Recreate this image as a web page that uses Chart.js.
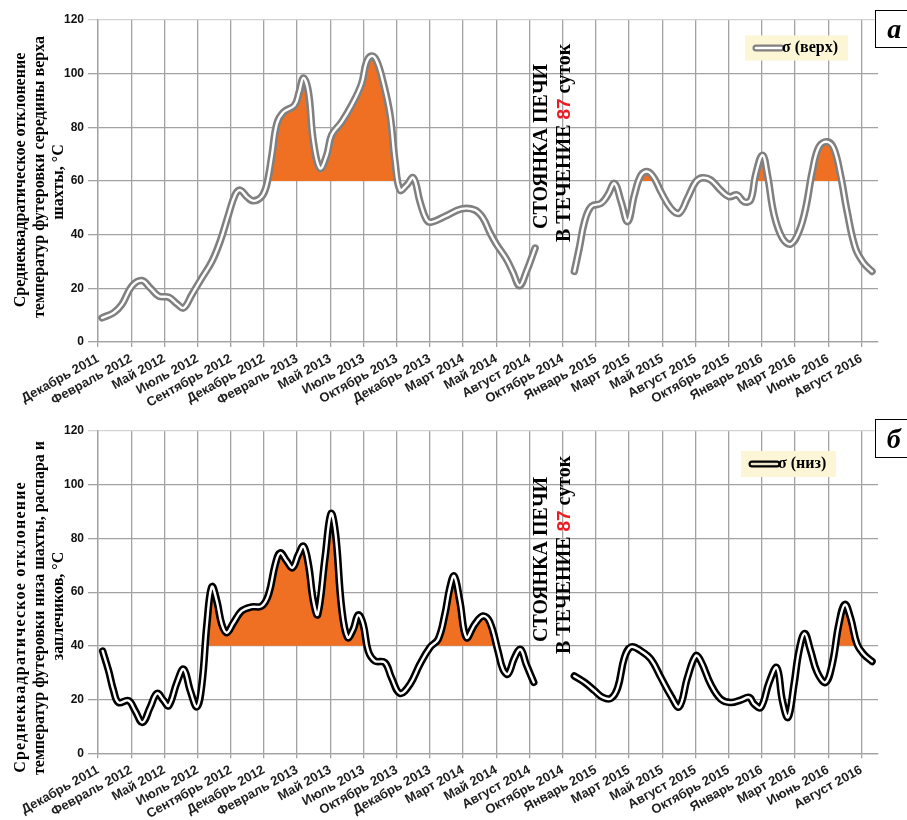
<!DOCTYPE html>
<html><head><meta charset="utf-8">
<script src="https://cdn.jsdelivr.net/npm/chart.js@4.4.1/dist/chart.umd.min.js"></script>
<style>
html,body{margin:0;padding:0;background:#fff;}
#wrap{position:relative;width:907px;height:820px;overflow:hidden;}
.box{position:absolute;left:0;width:907px;height:410px;}
</style></head><body>
<div id="wrap">
<div class="box" style="top:0"><canvas id="c1" width="907" height="410"></canvas></div>
<div class="box" style="top:410px"><canvas id="c2" width="907" height="410"></canvas></div>
</div>
<script>
// ---- categories (x-axis tick labels) ----
const tickLabels = ['Декабрь 2011','Февраль 2012','Май 2012','Июль 2012','Сентябрь 2012','Декабрь 2012',
  'Февраль 2013','Май 2013','Июль 2013','Октябрь 2013','Декабрь 2013','Март 2014','Май 2014','Август 2014',
  'Октябрь 2014','Январь 2015','Март 2015','Май 2015','Август 2015','Октябрь 2015','Январь 2016','Март 2016',
  'Июнь 2016','Август 2016'];
const yTicks = [0, 20, 40, 60, 80, 100, 120];

// ---- σ (верх): positions in label units, values in °C (null = furnace stop) ----
const xTop = [0.12,0.47,0.72,1.02,1.32,1.57,1.83,2.13,2.38,2.58,2.83,3.13,3.43,3.68,3.93,4.13,4.28,4.48,4.68,4.93,
  5.08,5.24,5.39,5.59,5.92,6.06,6.19,6.34,6.49,6.69,6.89,7.04,7.34,7.64,7.94,8.09,8.24,8.39,8.59,8.80,8.95,9.10,
  9.30,9.50,9.70,9.90,10.05,10.45,10.95,11.35,11.6,11.8,12.0,12.3,12.5,12.7,12.9,13.17,
  13.8,
  14.35,14.5,14.66,14.86,15.16,15.36,15.56,15.76,15.96,16.16,16.36,16.56,16.76,16.96,17.26,17.51,17.76,18.01,
  18.21,18.46,18.76,19.01,19.26,19.46,19.66,19.81,20.02,20.17,20.37,20.62,20.87,21.12,21.32,21.52,21.72,21.97,
  22.17,22.37,22.57,22.82,23.07,23.32];
const sigmaTop = [9.0,10.9,14,20.8,22.9,20.2,17.1,16.7,14.2,12.7,17.7,23.9,30,37.5,47.4,54.8,56.6,54.2,52.6,54.2,
  58.5,69.6,81.4,85.7,88.2,93.1,98.4,93.1,74.6,64.7,69.6,77.1,82,88.2,96.2,104.3,106.6,104.9,96.8,84.5,67.2,56.6,
  58.5,61.2,52.3,45.5,44.7,46.8,49.6,49.2,46.2,41,36.5,31,26,21,26,35,
  null,
  26.3,35,44.9,50.5,51.7,54.8,59.1,52.3,44.9,54.8,62.2,63.5,61,56,49.8,48,53.6,59.7,
  61.2,60.4,56.6,54.2,54.8,52.3,52.9,62.2,69.6,62.2,47.4,38.7,36.5,41.2,49.8,63.5,72.7,74.6,
  72.1,62.2,48.6,35,29.4,26.3];
// orange area above 60 (σ верх)
const xTopFill = [5.10,5.24,5.39,5.59,5.92,6.06,6.19,6.34,6.49,6.69,6.89,7.04,7.34,7.64,7.94,8.09,8.24,8.39,8.59,8.80,8.95,9.0,
  9.05, 16.25,16.36,16.56,16.76,16.85, 16.9, 19.77,19.81,20.02,20.17,20.2, 20.3, 21.49,21.52,21.72,21.97,22.17,22.37,22.40];
const fillTop = [60,69.6,81.4,85.7,88.2,93.1,97.5,93.1,74.6,64.7,69.6,77.1,82,88.2,96.2,104,105.5,104.5,96.8,84.5,67.2,60,
  null, 60,62.2,63.5,61,60, null, 60,62.2,67,62.2,60, null, 60,63.5,72.7,74.6,72.1,62.2,60];

// ---- σ (низ) ----
const xBot = [0.14,0.32,0.47,0.62,0.92,1.12,1.34,1.57,1.78,1.98,2.13,2.38,2.58,2.78,2.98,3.13,3.28,3.43,3.58,3.73,
  3.88,4.08,4.33,4.63,4.93,5.14,5.34,5.49,5.69,5.86,6.04,6.19,6.34,6.49,6.62,6.84,7.02,7.16,7.34,7.52,7.69,7.84,
  7.99,8.14,8.34,8.64,8.84,9.10,9.40,9.70,10.0,10.25,10.45,10.60,10.73,10.90,11.10,11.35,11.60,11.80,12.05,12.2,
  12.35,12.55,12.73,12.9,13.13,
  13.8,
  14.35,14.66,14.96,15.21,15.46,15.66,15.86,16.06,16.36,16.66,16.96,17.26,17.51,17.76,18.01,18.16,18.46,18.76,
  19.06,19.36,19.62,19.77,19.97,20.22,20.45,20.62,20.79,20.97,21.12,21.29,21.47,21.67,21.92,22.12,22.32,22.5,
  22.67,22.87,23.07,23.32];
const sigmaBot = [38.1,30.7,23.3,18.9,19.6,15.8,11.5,17.1,22.3,19.6,17.7,26.4,31.3,23.3,17.3,25.7,48,62,56.7,48,
  44.9,48.6,53,54.5,54.8,59.2,70.3,74.6,71.5,69.1,74,77.1,70.3,56.7,51.7,72.8,89.2,81.4,54.2,43.1,46.2,51.5,
  48,38.1,34.4,33.8,28.2,22.3,25.7,33.2,39.4,42.5,51.7,61.6,66,56.7,43.1,48,51.1,49,38.1,31.3,
  29.5,35.6,38.7,33.2,26.4,
  null,
  28.8,26.4,23.3,20.8,20.5,24.5,35.6,39.6,38.1,35,28.2,21.4,17.3,28.2,36.3,34.4,25.7,20.2,
  18.9,19.8,20.8,18.3,17.1,26.4,31.9,19.6,13.4,25.7,38.1,44.6,38.1,30.1,26.4,33.2,48,55.4,
  50.5,40.6,36.9,34.2];
// orange area above 40 (σ низ)
const xBotFill = [3.23,3.28,3.43,3.58,3.73,3.88,4.08,4.33,4.63,4.93,5.14,5.34,5.49,5.69,5.86,6.04,6.19,6.34,6.49,6.62,
  6.84,7.02,7.16,7.34,7.52,7.69,7.84,7.99,8.11, 8.2, 10.04,10.25,10.45,10.60,10.73,10.90,11.10,11.35,11.60,11.80,11.99,
  12.1, 22.26,22.32,22.5,22.67,22.78];
const fillBot = [40,48,62,56.7,48,44.9,48.6,53,54.5,54.8,59.2,70.3,74.6,71.5,69.1,74,77.1,70.3,56.7,51.7,
  72.8,88,81.4,54.2,43.1,46.2,51.5,48,40, null, 40,42.5,51.7,61.6,66,56.7,43.1,48,51.1,49,40,
  null, 40,48,55.4,50.5,40];

const ORANGE = '#f07023';
const pts = (xs, ys) => xs.map((x, i) => ({x: x, y: ys[i]}));

function makeDeco(cfg) {
  return {
    id: 'deco',
    afterDraw(chart) {
      const ctx = chart.ctx;
      // y-axis title (three lines, rotated)
      cfg.title.forEach((t, i) => {
        ctx.save();
        ctx.translate(cfg.titleX[i], cfg.titleY[i]);
        ctx.rotate(-Math.PI / 2);
        ctx.font = 'bold 16px "Liberation Serif"';
        ctx.fillStyle = '#000';
        ctx.textAlign = 'center';
        ctx.textBaseline = 'alphabetic';
        if (cfg.titleSpacing[i]) ctx.letterSpacing = cfg.titleSpacing[i];
        ctx.fillText(t, 0, 0);
        ctx.restore();
      });
      // vertical annotation
      ctx.save();
      ctx.translate(cfg.ann1[0], cfg.ann1[1]);
      ctx.rotate(-Math.PI / 2);
      ctx.font = 'bold 20px "Liberation Serif"';
      ctx.fillStyle = '#000';
      ctx.textAlign = 'left';
      ctx.textBaseline = 'alphabetic';
      ctx.fillText('СТОЯНКА ПЕЧИ', 0, 0);
      ctx.restore();
      ctx.save();
      ctx.translate(cfg.ann2[0], cfg.ann2[1]);
      ctx.rotate(-Math.PI / 2);
      ctx.textAlign = 'left';
      ctx.textBaseline = 'alphabetic';
      let x = 0;
      ctx.font = 'bold 20px "Liberation Serif"';
      ctx.fillStyle = '#000';
      ctx.fillText('В ТЕЧЕНИЕ ', x, 0); x += ctx.measureText('В ТЕЧЕНИЕ ').width;
      ctx.font = 'bold 19px "Liberation Sans"';
      ctx.fillStyle = '#ed1c24';
      ctx.fillText('87', x, 0); x += ctx.measureText('87').width;
      ctx.font = 'bold 20px "Liberation Serif"';
      ctx.fillStyle = '#000';
      ctx.fillText(' суток', x, 0);
      ctx.restore();
      // legend
      ctx.save();
      const b = cfg.legBox;
      ctx.fillStyle = '#fcf6d6';
      ctx.fillRect(b[0], b[1], b[2], b[3]);
      ctx.lineCap = 'round';
      ctx.beginPath(); ctx.moveTo(cfg.legSym[0], cfg.legSym[2]); ctx.lineTo(cfg.legSym[1], cfg.legSym[2]);
      ctx.strokeStyle = cfg.outer; ctx.lineWidth = 7; ctx.stroke();
      ctx.beginPath(); ctx.moveTo(cfg.legSym[0], cfg.legSym[2]); ctx.lineTo(cfg.legSym[1], cfg.legSym[2]);
      ctx.strokeStyle = cfg.legInner; ctx.lineWidth = 2.6; ctx.stroke();
      ctx.font = 'bold 16px "Liberation Serif"';
      ctx.fillStyle = '#000';
      ctx.textBaseline = 'middle';
      ctx.textAlign = 'left';
      ctx.fillText(cfg.legText, cfg.legSym[1] + 1, cfg.legSym[2]);
      ctx.restore();
      // panel label
      ctx.save();
      ctx.fillStyle = '#fff';
      ctx.fillRect(cfg.panel[0], cfg.panel[1], 40, cfg.panel[2]);
      ctx.strokeStyle = '#000';
      ctx.lineWidth = 1;
      ctx.strokeRect(cfg.panel[0], cfg.panel[1], 40, cfg.panel[2]);
      ctx.font = 'italic bold 28px "Liberation Serif"';
      ctx.fillStyle = '#000';
      ctx.textAlign = 'center';
      ctx.textBaseline = 'alphabetic';
      ctx.fillText(cfg.panelText, cfg.panel[3], cfg.panel[4]);
      ctx.restore();
    }
  };
}

function makeChart(id, xs, ys, fx, fy, thr, outer, inner, padTop, xHeight, deco) {
  return new Chart(document.getElementById(id), {
    type: 'line',
    data: {
      datasets: [
        {data: pts(xs, ys), borderColor: inner, borderWidth: 2.4, tension: 0.4, pointRadius: 0,
         fill: false, spanGaps: false, order: 0, borderCapStyle: 'round', borderJoinStyle: 'round'},
        {data: pts(xs, ys), borderColor: outer, borderWidth: 7.5, tension: 0.4, pointRadius: 0,
         fill: false, spanGaps: false, order: 1, borderCapStyle: 'round', borderJoinStyle: 'round'},
        {data: pts(fx, fy), borderWidth: 0, borderColor: 'rgba(0,0,0,0)', backgroundColor: ORANGE,
         tension: 0, pointRadius: 0, fill: {value: thr}, spanGaps: false, order: 2}
      ]
    },
    options: {
      responsive: false,
      animation: false,
      events: [],
      layout: {autoPadding: false, padding: {top: padTop, right: 29, bottom: 0, left: 0}},
      plugins: {legend: {display: false}, tooltip: {enabled: false}},
      scales: {
        x: {
          type: 'linear', min: 0, max: 23.5,
          afterBuildTicks: (s) => { s.ticks = tickLabels.map((_, i) => ({value: i})); },
          afterFit: (s) => { s.height = xHeight; },
          ticks: {
            autoSkip: false, maxRotation: 29, minRotation: 29, padding: 4,
            color: '#1e1e1e', font: {family: '"Liberation Sans"', size: 13, weight: 'bold'},
            callback: (v) => tickLabels[Math.round(v)]
          },
          grid: {color: '#a2a2a2', lineWidth: 1.3, tickLength: 5},
          border: {color: '#a2a2a2', width: 1.3}
        },
        y: {
          min: 0, max: 120,
          afterBuildTicks: (s) => { s.ticks = yTicks.map(v => ({value: v})); },
          afterFit: (s) => { s.width = 98; },
          ticks: {padding: 4, color: '#111', font: {family: '"Liberation Sans"', size: 12, weight: 'bold'}},
          grid: {color: (c) => (c.tick && c.tick.value === 120) ? '#d2d2d2' : '#a2a2a2', lineWidth: 1.3, tickLength: 10},
          border: {color: '#a2a2a2', width: 1.3}
        }
      }
    },
    plugins: [makeDeco(deco)]
  });
}

makeChart('c1', xTop, sigmaTop, xTopFill, fillTop, 60, '#808080', '#ffffff', 20, 68, {
  title: ['Среднеквадратическое отклонение', 'температур футеровки середины верха', 'шахты, °С'],
  titleX: [25, 44, 63], titleY: [180, 177, 182], titleSpacing: [null, null, null],
  ann1: [547, 229], ann2: [570, 242],
  legBox: [745, 35.5, 103, 25], legSym: [756, 781, 48], outer: '#808080', legInner: '#ffffff', legText: 'σ (верх)',
  panel: [875.5, 10.5, 37, 894.3, 38.3], panelText: 'а'
});
makeChart('c2', xBot, sigmaBot, xBotFill, fillBot, 40, '#000000', '#ffffff', 21, 66.7, {
  title: ['Среднеквадратическое отклонение', 'температур футеровки низа шахты, распара и', 'заплечиков, °С'],
  titleX: [25, 44, 63], titleY: [217, 198, 196], titleSpacing: ['1.2px', null, null],
  ann1: [547, 232], ann2: [570, 244],
  legBox: [741, 41, 95, 26], legSym: [752, 777, 54], outer: '#000000', legInner: '#ece7c8', legText: 'σ (низ)',
  panel: [875.5, 9.5, 38, 893.7, 38.3], panelText: 'б'
});
</script>
</body></html>
